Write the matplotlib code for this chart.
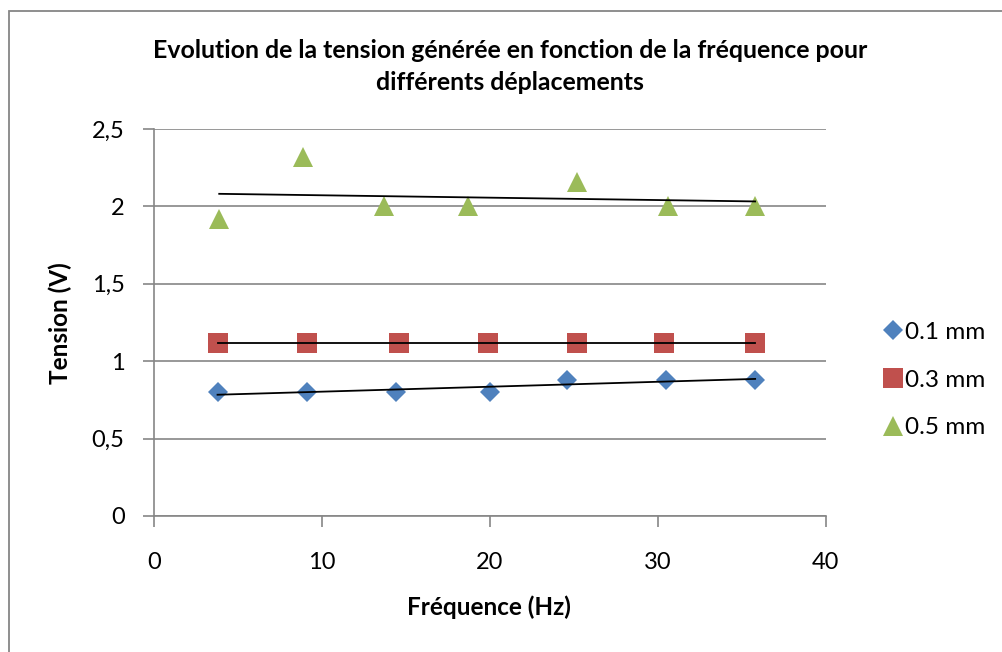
import numpy as np
import matplotlib
matplotlib.use("Agg")
import matplotlib.pyplot as plt
from matplotlib.patches import Rectangle
from matplotlib.ticker import FuncFormatter

plt.rcParams['font.family'] = ['Lato', 'DejaVu Sans']

# Data
x_01 = [3.8, 9.1, 14.4, 20.0, 24.6, 30.5, 35.8]
y_01 = [0.80, 0.80, 0.80, 0.80, 0.88, 0.88, 0.88]
x_03 = [3.8, 9.1, 14.6, 19.9, 25.2, 30.4, 35.8]
y_03 = [1.12, 1.12, 1.12, 1.12, 1.12, 1.12, 1.12]
x_05 = [3.9, 8.9, 13.7, 18.7, 25.2, 30.6, 35.8]
y_05 = [1.92, 2.32, 2.00, 2.00, 2.16, 2.00, 2.00]
labels = ["0.1 mm", "0.3 mm", "0.5 mm"]
x_ticks = [0, 10, 20, 30, 40]
y_ticks = [0, 0.5, 1, 1.5, 2, 2.5]

title_l1 = "Evolution de la tension générée en fonction de la fréquence pour"
title_l2 = "différents déplacements"
xlabel = "Fréquence (Hz)"
ylabel = "Tension (V)"

colors = ["#4F81BD", "#C0504D", "#9BBB59"]
markers = ["D", "s", "^"]
msizes = [9.8, 14.0, 14.0]

fig = plt.figure(figsize=(10.02, 6.52), dpi=100)
ax = fig.add_axes([153.7/1002, 1 - 516/652, (825.7-153.7)/1002, (516-129)/652])

# chart frame
fig.patches.append(Rectangle((9/1002, -0.1), 1.2, 1 - 11/652 + 0.1, transform=fig.transFigure,
                             fill=False, edgecolor="#868686", linewidth=1.3))

series = [(x_01, y_01), (x_03, y_03), (x_05, y_05)]
for (xs, ys), c, m, ms, lab in zip(series, colors, markers, msizes, labels):
    ax.plot(xs, ys, linestyle="none", marker=m, markersize=ms, color=c,
            markeredgewidth=0, label=lab, zorder=3)
    coef = np.polyfit(xs, ys, 1)
    xx = np.array([min(xs), max(xs)])
    ax.plot(xx, np.polyval(coef, xx), color="black", linewidth=1.3, zorder=4)

ax.set_xlim(0, 40)
ax.set_ylim(0, 2.5)
ax.set_xticks(x_ticks)
ax.set_yticks(y_ticks)
ax.yaxis.set_major_formatter(FuncFormatter(lambda v, p: ("%g" % v).replace(".", ",")))
ax.grid(axis="y", color="#868686", linewidth=1.2)
ax.set_axisbelow(True)
for s in ["top", "right"]:
    ax.spines[s].set_visible(False)
for s in ["left", "bottom"]:
    ax.spines[s].set_color("#868686")
    ax.spines[s].set_linewidth(1.2)
ax.tick_params(axis="both", colors="#868686", length=8, width=1.2, labelsize=17,
               labelcolor="black")
ax.tick_params(axis="x", pad=18)
ax.tick_params(axis="y", pad=13)

fig.text(510/1002, 1 - 50/652, title_l1, ha="center", va="center", fontsize=17.9,
         fontweight="bold")
fig.text(510/1002, 1 - 83/652, title_l2, ha="center", va="center", fontsize=17.9,
         fontweight="bold")
fig.text(489/1002, 1 - 607/652, xlabel, ha="center", va="center", fontsize=17.5,
         fontweight="bold")
fig.text(60/1002, 1 - 323/652, ylabel, ha="center", va="center", fontsize=17.5,
         fontweight="bold", rotation=90)

leg = fig.legend(loc="center left", bbox_to_anchor=(881/1002, 1 - 380/652), frameon=False,
                 fontsize=17.5, handletextpad=0.0, labelspacing=1.09, handlelength=1.0,
                 borderaxespad=0, borderpad=0)

fig.savefig("out.png", dpi=100, facecolor="white")
